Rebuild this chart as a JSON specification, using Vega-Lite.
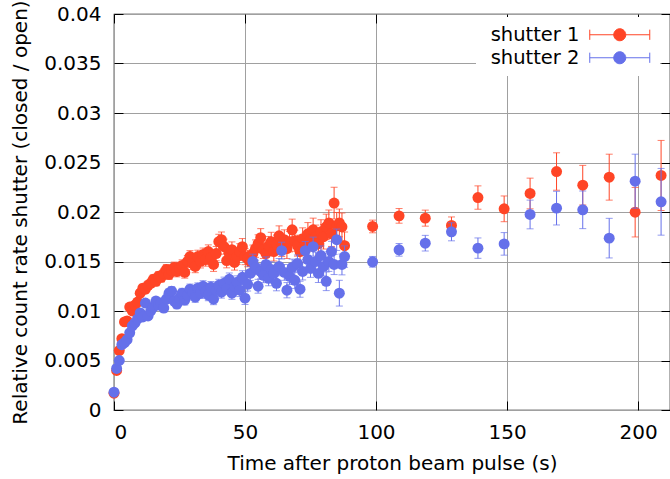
{
  "$schema": "https://vega.github.io/schema/vega-lite/v6.json",
  "width": 556,
  "height": 396,
  "autosize": {"type": "none"},
  "padding": {"left": 114, "top": 14, "right": 0, "bottom": 69},
  "config": {
    "font": "DejaVu Sans",
    "view": {"stroke": "#000000", "strokeWidth": 1.2},
    "axis": {"labelFontSize": 20, "titleFontSize": 20, "labelColor": "#000", "titleColor": "#000", "titleFontWeight": "normal", "tickColor": "#000", "gridColor": "#a0a0a0", "gridWidth": 1, "domain": false}
  },
  "data": {"values": [
    {"s":"shutter 1","t":0,"v":0.0017,"e":0.0002},{"s":"shutter 1","t":1,"v":0.0040,"e":0.00022},{"s":"shutter 1","t":2,"v":0.0060,"e":0.00025},{"s":"shutter 1","t":3,"v":0.0072,"e":0.00027},{"s":"shutter 1","t":4,"v":0.0089,"e":0.0003},
    {"s":"shutter 1","t":5,"v":0.0090,"e":0.0003},{"s":"shutter 1","t":6,"v":0.0104,"e":0.00032},{"s":"shutter 1","t":7,"v":0.0100,"e":0.00033},{"s":"shutter 1","t":8,"v":0.0106,"e":0.00035},{"s":"shutter 1","t":9,"v":0.0109,"e":0.00036},
    {"s":"shutter 1","t":10,"v":0.0118,"e":0.00038},{"s":"shutter 1","t":11,"v":0.0123,"e":0.0004},{"s":"shutter 1","t":12,"v":0.0122,"e":0.0004},{"s":"shutter 1","t":13,"v":0.0126,"e":0.00042},{"s":"shutter 1","t":14,"v":0.0128,"e":0.00043},
    {"s":"shutter 1","t":15,"v":0.0132,"e":0.00045},{"s":"shutter 1","t":16,"v":0.0130,"e":0.00046},{"s":"shutter 1","t":17,"v":0.0135,"e":0.00047},{"s":"shutter 1","t":18,"v":0.0134,"e":0.00048},{"s":"shutter 1","t":19,"v":0.0138,"e":0.0005},
    {"s":"shutter 1","t":20,"v":0.0142,"e":0.0005},{"s":"shutter 1","t":21,"v":0.0137,"e":0.00052},{"s":"shutter 1","t":22,"v":0.0141,"e":0.00053},{"s":"shutter 1","t":23,"v":0.0144,"e":0.00054},{"s":"shutter 1","t":24,"v":0.0140,"e":0.00055},
    {"s":"shutter 1","t":25,"v":0.0143,"e":0.00056},{"s":"shutter 1","t":26,"v":0.0146,"e":0.00057},{"s":"shutter 1","t":27,"v":0.0139,"e":0.00058},{"s":"shutter 1","t":28,"v":0.0150,"e":0.0006},{"s":"shutter 1","t":29,"v":0.0155,"e":0.0006},
    {"s":"shutter 1","t":30,"v":0.0148,"e":0.00062},{"s":"shutter 1","t":31,"v":0.0145,"e":0.00063},{"s":"shutter 1","t":32,"v":0.0155,"e":0.00064},{"s":"shutter 1","t":33,"v":0.0150,"e":0.00065},{"s":"shutter 1","t":34,"v":0.0157,"e":0.00066},
    {"s":"shutter 1","t":35,"v":0.0152,"e":0.00067},{"s":"shutter 1","t":36,"v":0.0160,"e":0.00068},{"s":"shutter 1","t":37,"v":0.0154,"e":0.00069},{"s":"shutter 1","t":38,"v":0.0147,"e":0.0007},{"s":"shutter 1","t":39,"v":0.0158,"e":0.00072},
    {"s":"shutter 1","t":40,"v":0.0170,"e":0.00075},{"s":"shutter 1","t":41,"v":0.0172,"e":0.00078},{"s":"shutter 1","t":42,"v":0.0165,"e":0.00076},{"s":"shutter 1","t":43,"v":0.0151,"e":0.00074},{"s":"shutter 1","t":44,"v":0.0158,"e":0.00076},
    {"s":"shutter 1","t":45,"v":0.0162,"e":0.00078},{"s":"shutter 1","t":46,"v":0.0149,"e":0.00077},{"s":"shutter 1","t":47,"v":0.0155,"e":0.00079},{"s":"shutter 1","t":48,"v":0.0160,"e":0.0008},{"s":"shutter 1","t":49,"v":0.0165,"e":0.00082},
    {"s":"shutter 1","t":50,"v":0.0155,"e":0.00082},{"s":"shutter 1","t":51,"v":0.0153,"e":0.00083},{"s":"shutter 1","t":52,"v":0.0150,"e":0.00084},{"s":"shutter 1","t":53,"v":0.0158,"e":0.00086},{"s":"shutter 1","t":54,"v":0.0163,"e":0.00088},
    {"s":"shutter 1","t":55,"v":0.0168,"e":0.0009},{"s":"shutter 1","t":56,"v":0.0174,"e":0.00092},{"s":"shutter 1","t":57,"v":0.0162,"e":0.0009},{"s":"shutter 1","t":58,"v":0.0158,"e":0.0009},{"s":"shutter 1","t":59,"v":0.0166,"e":0.00093},
    {"s":"shutter 1","t":60,"v":0.0170,"e":0.00095},{"s":"shutter 1","t":61,"v":0.0160,"e":0.00095},{"s":"shutter 1","t":62,"v":0.0167,"e":0.00097},{"s":"shutter 1","t":63,"v":0.0176,"e":0.001},{"s":"shutter 1","t":64,"v":0.0165,"e":0.001},
    {"s":"shutter 1","t":65,"v":0.0172,"e":0.001},{"s":"shutter 1","t":66,"v":0.0163,"e":0.001},{"s":"shutter 1","t":67,"v":0.0170,"e":0.00103},{"s":"shutter 1","t":68,"v":0.0182,"e":0.00108},{"s":"shutter 1","t":69,"v":0.0171,"e":0.00106},
    {"s":"shutter 1","t":70,"v":0.0166,"e":0.00106},{"s":"shutter 1","t":71,"v":0.0160,"e":0.00107},{"s":"shutter 1","t":72,"v":0.0173,"e":0.0011},{"s":"shutter 1","t":73,"v":0.0168,"e":0.0011},{"s":"shutter 1","t":74,"v":0.0178,"e":0.00113},
    {"s":"shutter 1","t":75,"v":0.0172,"e":0.00115},{"s":"shutter 1","t":76,"v":0.0182,"e":0.00118},{"s":"shutter 1","t":77,"v":0.0175,"e":0.00118},{"s":"shutter 1","t":78,"v":0.0168,"e":0.0012},{"s":"shutter 1","t":79,"v":0.0180,"e":0.00122},
    {"s":"shutter 1","t":80,"v":0.0175,"e":0.00124},{"s":"shutter 1","t":81,"v":0.0185,"e":0.00128},{"s":"shutter 1","t":82,"v":0.0189,"e":0.0013},{"s":"shutter 1","t":83,"v":0.0178,"e":0.00128},{"s":"shutter 1","t":84,"v":0.0209,"e":0.0016},
    {"s":"shutter 1","t":85,"v":0.0186,"e":0.00135},{"s":"shutter 1","t":86,"v":0.0189,"e":0.0014},{"s":"shutter 1","t":87,"v":0.0185,"e":0.0014},{"s":"shutter 1","t":88,"v":0.0166,"e":0.00138},
    {"s":"shutter 1","t":98.7,"v":0.01854,"e":0.00064},{"s":"shutter 1","t":108.8,"v":0.01961,"e":0.00074},{"s":"shutter 1","t":118.8,"v":0.01938,"e":0.00081},{"s":"shutter 1","t":128.8,"v":0.01864,"e":0.00086},
    {"s":"shutter 1","t":138.9,"v":0.02146,"e":0.00118},{"s":"shutter 1","t":148.9,"v":0.02032,"e":0.0013},{"s":"shutter 1","t":158.8,"v":0.02187,"e":0.00155},{"s":"shutter 1","t":168.9,"v":0.02409,"e":0.00189},
    {"s":"shutter 1","t":178.9,"v":0.02271,"e":0.002},{"s":"shutter 1","t":189,"v":0.02352,"e":0.00232},{"s":"shutter 1","t":198.9,"v":0.01998,"e":0.0025},{"s":"shutter 1","t":208.8,"v":0.02369,"e":0.00354},
    {"s":"shutter 2","t":0,"v":0.0018,"e":0.0002},{"s":"shutter 2","t":1,"v":0.0042,"e":0.00022},{"s":"shutter 2","t":2,"v":0.0050,"e":0.00023},{"s":"shutter 2","t":3,"v":0.0066,"e":0.00025},{"s":"shutter 2","t":4,"v":0.0068,"e":0.00026},
    {"s":"shutter 2","t":5,"v":0.0071,"e":0.00027},{"s":"shutter 2","t":6,"v":0.0078,"e":0.00029},{"s":"shutter 2","t":7,"v":0.0085,"e":0.0003},{"s":"shutter 2","t":8,"v":0.0088,"e":0.00031},{"s":"shutter 2","t":9,"v":0.0092,"e":0.00032},
    {"s":"shutter 2","t":10,"v":0.0098,"e":0.00034},{"s":"shutter 2","t":11,"v":0.0094,"e":0.00034},{"s":"shutter 2","t":12,"v":0.0108,"e":0.00036},{"s":"shutter 2","t":13,"v":0.0095,"e":0.00035},{"s":"shutter 2","t":14,"v":0.0100,"e":0.00037},
    {"s":"shutter 2","t":15,"v":0.0104,"e":0.00038},{"s":"shutter 2","t":16,"v":0.0110,"e":0.0004},{"s":"shutter 2","t":17,"v":0.0106,"e":0.0004},{"s":"shutter 2","t":18,"v":0.0108,"e":0.00041},{"s":"shutter 2","t":19,"v":0.0103,"e":0.00041},
    {"s":"shutter 2","t":20,"v":0.0112,"e":0.00043},{"s":"shutter 2","t":21,"v":0.0118,"e":0.00045},{"s":"shutter 2","t":22,"v":0.0120,"e":0.00046},{"s":"shutter 2","t":23,"v":0.0110,"e":0.00045},{"s":"shutter 2","t":24,"v":0.0107,"e":0.00046},
    {"s":"shutter 2","t":25,"v":0.0113,"e":0.00047},{"s":"shutter 2","t":26,"v":0.0118,"e":0.00049},{"s":"shutter 2","t":27,"v":0.0111,"e":0.00049},{"s":"shutter 2","t":28,"v":0.0116,"e":0.0005},{"s":"shutter 2","t":29,"v":0.0122,"e":0.00052},
    {"s":"shutter 2","t":30,"v":0.0119,"e":0.00052},{"s":"shutter 2","t":31,"v":0.0114,"e":0.00052},{"s":"shutter 2","t":32,"v":0.0123,"e":0.00054},{"s":"shutter 2","t":33,"v":0.0118,"e":0.00054},{"s":"shutter 2","t":34,"v":0.0125,"e":0.00056},
    {"s":"shutter 2","t":35,"v":0.0120,"e":0.00056},{"s":"shutter 2","t":36,"v":0.0116,"e":0.00056},{"s":"shutter 2","t":37,"v":0.0124,"e":0.00058},{"s":"shutter 2","t":38,"v":0.0112,"e":0.00056},{"s":"shutter 2","t":39,"v":0.0121,"e":0.00059},
    {"s":"shutter 2","t":40,"v":0.0126,"e":0.0006},{"s":"shutter 2","t":41,"v":0.0119,"e":0.0006},{"s":"shutter 2","t":42,"v":0.0128,"e":0.00062},{"s":"shutter 2","t":43,"v":0.0123,"e":0.00062},{"s":"shutter 2","t":44,"v":0.0132,"e":0.00064},
    {"s":"shutter 2","t":45,"v":0.0118,"e":0.00062},{"s":"shutter 2","t":46,"v":0.0125,"e":0.00064},{"s":"shutter 2","t":47,"v":0.0129,"e":0.00065},{"s":"shutter 2","t":48,"v":0.0121,"e":0.00064},{"s":"shutter 2","t":49,"v":0.0134,"e":0.00067},
    {"s":"shutter 2","t":50,"v":0.0113,"e":0.00064},{"s":"shutter 2","t":51,"v":0.0127,"e":0.00068},{"s":"shutter 2","t":52,"v":0.0138,"e":0.00071},{"s":"shutter 2","t":53,"v":0.0150,"e":0.00074},{"s":"shutter 2","t":54,"v":0.0144,"e":0.00073},
    {"s":"shutter 2","t":55,"v":0.0125,"e":0.0007},{"s":"shutter 2","t":56,"v":0.0140,"e":0.00074},{"s":"shutter 2","t":57,"v":0.0136,"e":0.00074},{"s":"shutter 2","t":58,"v":0.0147,"e":0.00077},{"s":"shutter 2","t":59,"v":0.0133,"e":0.00075},
    {"s":"shutter 2","t":60,"v":0.0142,"e":0.00077},{"s":"shutter 2","t":61,"v":0.0138,"e":0.00077},{"s":"shutter 2","t":62,"v":0.0128,"e":0.00076},{"s":"shutter 2","t":63,"v":0.0145,"e":0.0008},{"s":"shutter 2","t":64,"v":0.0161,"e":0.00085},
    {"s":"shutter 2","t":65,"v":0.0139,"e":0.0008},{"s":"shutter 2","t":66,"v":0.0121,"e":0.00077},{"s":"shutter 2","t":67,"v":0.0135,"e":0.00082},{"s":"shutter 2","t":68,"v":0.0144,"e":0.00084},{"s":"shutter 2","t":69,"v":0.0131,"e":0.00082},
    {"s":"shutter 2","t":70,"v":0.0148,"e":0.00086},{"s":"shutter 2","t":71,"v":0.0122,"e":0.00081},{"s":"shutter 2","t":72,"v":0.0140,"e":0.00086},{"s":"shutter 2","t":73,"v":0.0161,"e":0.00092},{"s":"shutter 2","t":74,"v":0.0152,"e":0.0009},
    {"s":"shutter 2","t":75,"v":0.0143,"e":0.0009},{"s":"shutter 2","t":76,"v":0.0165,"e":0.00096},{"s":"shutter 2","t":77,"v":0.0150,"e":0.00094},{"s":"shutter 2","t":78,"v":0.0138,"e":0.00092},{"s":"shutter 2","t":79,"v":0.0156,"e":0.00098},
    {"s":"shutter 2","t":80,"v":0.0145,"e":0.00096},{"s":"shutter 2","t":81,"v":0.0130,"e":0.00094},{"s":"shutter 2","t":82,"v":0.0150,"e":0.001},{"s":"shutter 2","t":83,"v":0.0160,"e":0.00104},{"s":"shutter 2","t":84,"v":0.0147,"e":0.00102},
    {"s":"shutter 2","t":85,"v":0.0172,"e":0.00108},{"s":"shutter 2","t":86,"v":0.0118,"e":0.0013},{"s":"shutter 2","t":87,"v":0.0147,"e":0.00105},{"s":"shutter 2","t":88,"v":0.0155,"e":0.00108},
    {"s":"shutter 2","t":98.7,"v":0.01497,"e":0.00054},{"s":"shutter 2","t":108.8,"v":0.01618,"e":0.00064},{"s":"shutter 2","t":118.8,"v":0.01685,"e":0.00079},{"s":"shutter 2","t":128.8,"v":0.0180,"e":0.00091},
    {"s":"shutter 2","t":138.9,"v":0.01635,"e":0.00103},{"s":"shutter 2","t":148.9,"v":0.01678,"e":0.00114},{"s":"shutter 2","t":158.8,"v":0.01975,"e":0.00145},{"s":"shutter 2","t":168.9,"v":0.02039,"e":0.0017},
    {"s":"shutter 2","t":178.9,"v":0.02022,"e":0.0019},{"s":"shutter 2","t":189,"v":0.01736,"e":0.002},{"s":"shutter 2","t":198.9,"v":0.02311,"e":0.00273},{"s":"shutter 2","t":208.8,"v":0.02103,"e":0.00337}
  ]},
  "layer": [
    {
      "transform": [{"filter": "datum.s == 'shutter 1'"}],
      "mark": {"type": "errorbar", "ticks": {"size": 7}, "thickness": 1},
      "encoding": {
        "x": {"field": "t", "type": "quantitative", "scale": {"domain": [0, 212.2], "nice": false, "zero": false},
          "axis": {"orient": "bottom", "values": [0, 50, 100, 150, 200], "grid": true, "tickSize": -9, "labelPadding": 21, "titlePadding": 11, "title": "Time after proton beam pulse (s)"}},
        "y": {"field": "v", "type": "quantitative", "scale": {"domain": [0, 0.04], "nice": false, "zero": false},
          "axis": {"orient": "left", "values": [0, 0.005, 0.01, 0.015, 0.02, 0.025, 0.03, 0.035, 0.04], "labelExpr": "format(datum.value, '~g')", "grid": true, "tickSize": -9, "labelPadding": 22, "titlePadding": 13, "title": "Relative count rate shutter (closed / open)"}},
        "yError": {"field": "e"},
        "color": {"field": "s", "type": "nominal", "scale": {"domain": ["shutter 1", "shutter 2"], "range": ["#ff4526", "#6570ea"]},
          "legend": {"orient": "none", "legendX": 362, "legendY": 3, "title": null, "rowPadding": 2, "padding": 8, "fillColor": "#ffffff", "strokeColor": null,
            "symbolType": "M-5,0H5M-5,-0.85V0.85M5,-0.85V0.85M1,0A1,1,0,1,1,-1,0A1,1,0,1,1,1,0Z", "symbolSize": 144, "symbolStrokeWidth": 1, "symbolOffset": 126, "labelOffset": -50, "labelAlign": "right", "labelFontSize": 19.5, "labelColor": "#000", "labelFont": "DejaVu Sans",
            "encode": {"symbols": {"update": {"stroke": {"scale": "color", "field": "value"}, "fill": {"scale": "color", "field": "value"}, "opacity": {"value": 1}}}}}}
      }
    },
    {
      "transform": [{"filter": "datum.s == 'shutter 1'"}],
      "mark": {"type": "point", "filled": true, "size": 120, "opacity": 1},
      "encoding": {
        "x": {"field": "t", "type": "quantitative", "axis": {"orient": "top", "values": [0, 50, 100, 150, 200], "grid": false, "labels": false, "tickSize": -9, "title": null}},
        "y": {"field": "v", "type": "quantitative", "axis": {"orient": "right", "values": [0, 0.005, 0.01, 0.015, 0.02, 0.025, 0.03, 0.035, 0.04], "grid": false, "labels": false, "tickSize": -9, "title": null}},
        "color": {"field": "s", "type": "nominal"}
      }
    },
    {
      "transform": [{"filter": "datum.s == 'shutter 2'"}],
      "mark": {"type": "errorbar", "ticks": {"size": 7}, "thickness": 1},
      "encoding": {
        "x": {"field": "t", "type": "quantitative", "axis": null},
        "y": {"field": "v", "type": "quantitative", "axis": null},
        "yError": {"field": "e"},
        "color": {"field": "s", "type": "nominal"}
      }
    },
    {
      "transform": [{"filter": "datum.s == 'shutter 2'"}],
      "mark": {"type": "point", "filled": true, "size": 120, "opacity": 1},
      "encoding": {
        "x": {"field": "t", "type": "quantitative", "axis": null},
        "y": {"field": "v", "type": "quantitative", "axis": null},
        "color": {"field": "s", "type": "nominal"}
      }
    }
  ],
  "resolve": {"axis": {"x": "independent", "y": "independent"}}
}
